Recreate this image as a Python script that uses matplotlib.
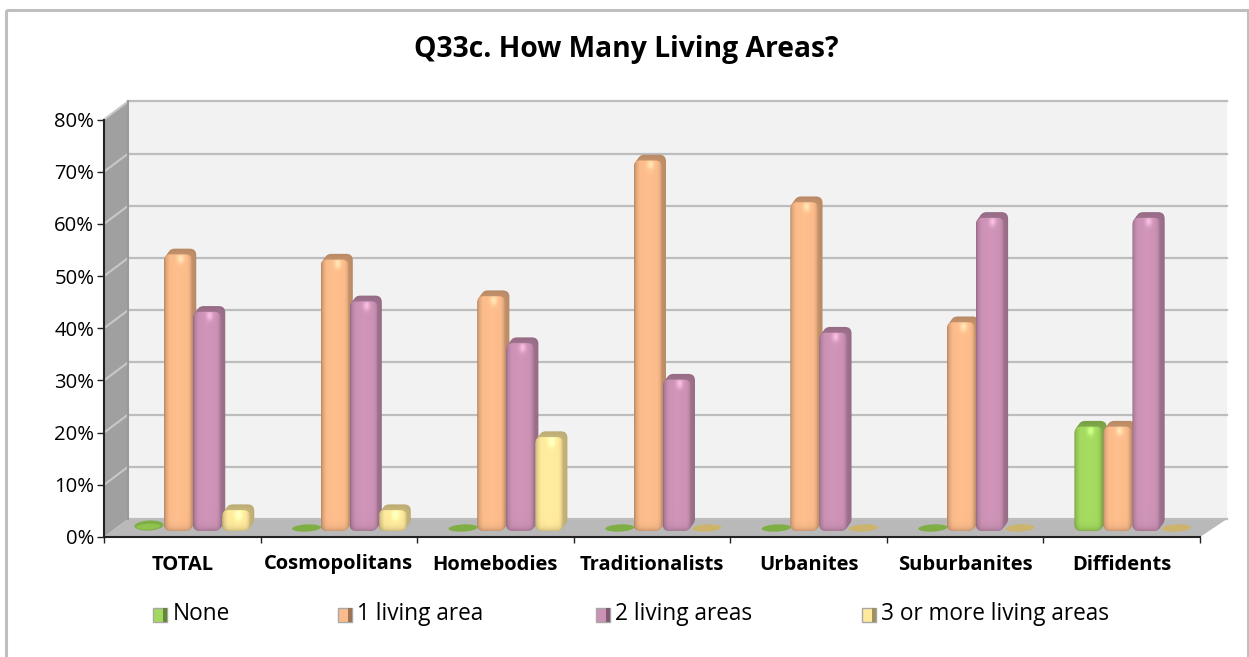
import numpy as np
import matplotlib
matplotlib.use("Agg")
import matplotlib.pyplot as plt
from matplotlib.patches import FancyBboxPatch, Polygon, Rectangle
from matplotlib.colors import to_rgb

title = "Q33c. How Many Living Areas?"
categories = ["TOTAL", "Cosmopolitans", "Homebodies", "Traditionalists", "Urbanites", "Suburbanites", "Diffidents"]
series_names = ["None", "1 living area", "2 living areas", "3 or more living areas"]
none_vals = [1, 0, 0, 0, 0, 0, 20]
one_vals = [53, 52, 45, 71, 63, 40, 20]
two_vals = [42, 44, 36, 29, 38, 60, 60]
three_vals = [4, 4, 18, 0, 0, 0, 0]
series_vals = [none_vals, one_vals, two_vals, three_vals]
base_cols = ["#A3D95E", "#FBBB8A", "#CC92B5", "#FFE99C"]
flat_cols = ["#7FAE45", "#D9A473", "#B08A9C", "#CDB46C"]
yticks = [0, 10, 20, 30, 40, 50, 60, 70, 80]

W, H = 1249, 657
fig = plt.figure(figsize=(W / 100, H / 100), dpi=100, facecolor="white")
plt.rcParams["font.family"] = ["Open Sans", "DejaVu Sans"]

L, R, B, T = 104, 1200, 537, 119.5
ax = fig.add_axes([L / W, 1 - B / H, (R - L) / W, (B - T) / H])
ax.set_xlim(0, 7)
ax.set_ylim(0, 80)
ax.patch.set_alpha(0)
for s in ["top", "right"]:
    ax.spines[s].set_visible(False)
for s in ["left", "bottom"]:
    ax.spines[s].set_color("#222222")
    ax.spines[s].set_linewidth(1.5)
    ax.spines[s].set_zorder(6)

px = 7 / (R - L)          # data units per pixel in x
py = 80 / (B - T)         # data units per pixel in y
dx, dy = 24 * px, 18 * py   # depth of the 3-D box
xr = 7 + 3 * px

# back wall, side wall, floor
ax.add_patch(Rectangle((dx, dy), xr, 80, fc="#F2F2F2", ec="none", zorder=0, clip_on=False))
ax.add_patch(Polygon([(0, 0), (dx, dy), (dx, 80 + dy), (0, 80)], fc="#A0A0A0", ec="none", zorder=1, clip_on=False))
ax.add_patch(Polygon([(0, 0), (7, 0), (xr + dx, dy), (dx, dy)], fc="#B9B9B9", ec="none", zorder=1, clip_on=False))
for v in yticks:
    if v > 0:
        ax.plot([0, dx], [v, v + dy], color="#C8C8C8", lw=1.5, zorder=1.5, clip_on=False)
    ax.plot([dx, xr + dx], [v + dy, v + dy], color="#BDBDBD", lw=1.6, zorder=1.5, clip_on=False)
ax.plot([dx, dx], [dy, 80 + dy], color="#9A9A9A", lw=1.5, zorder=1.6, clip_on=False)

ax.set_xticks(range(8))
ax.set_xticklabels([])
ax.set_yticks(yticks)
ax.set_yticklabels([f"{v}%" for v in yticks], fontsize=14.6, color="black")
ax.tick_params(axis="y", length=5, width=1, color="#222222", pad=2)
ax.tick_params(axis="x", length=4.5, width=1, color="#222222")
for i, c in enumerate(categories):
    ax.text(i + 0.5, -27.5 * py, c, ha="center", va="center", fontsize=14.5, fontweight="bold", color="black", clip_on=False)


def bar_image(col, height_px):
    """Soft 2-D shading of a rounded bar face."""
    base = np.array(to_rgb(col))
    xs = np.linspace(0, 1, 60)
    shade = np.interp(xs, [0, .06, .2, .5, .85, .95, 1], [.72, .88, 1.0, 1.02, 1.0, .92, .8])
    rows = max(int(height_px), 2)
    img = np.ones((rows, 60, 3)) * base * shade[None, :, None]
    ys = np.arange(rows)
    top = np.exp(-((ys - 4) / 5.0) ** 2)
    spot = np.exp(-((xs - .6) / .12) ** 2)
    img = img + (top[:, None] * spot[None, :])[:, :, None] * 0.17
    bottom = 1 - 0.18 * np.exp(-((rows - 1 - ys) / 3.0))
    img = img * bottom[:, None, None]
    return np.clip(img, 0, 1)


def slant_blob(xc, yc, a_px, b_px, col, z, deg=3):
    """Flat lozenge used for zero or near-zero values."""
    t = np.linspace(0, 2 * np.pi, 80)
    th = np.radians(deg)
    ex = a_px * np.cos(t) * np.cos(th) - b_px * np.sin(t) * np.sin(th)
    ey = a_px * np.cos(t) * np.sin(th) + b_px * np.sin(t) * np.cos(th)
    ax.add_patch(Polygon(np.column_stack([xc + ex * px, yc + ey * py]), fc=col, ec="none", zorder=z))


bw = 28 * px
stride = 29 * px
start = 31 * px
lift = 6 * py      # bars stand 6 px behind the front edge of the floor
rad = 6.5 * px
ratio = py / px

for s, (vals, col, flat) in enumerate(zip(series_vals, base_cols, flat_cols)):
    for i, v in enumerate(vals):
        x0 = i + start + s * stride
        z = 3 + s * 0.1
        if v == 0:
            slant_blob(x0 + 15 * px, lift + 3 * py, 14.5, 3.6, flat, z)
            continue
        if v * 5.22 < 8:
            slant_blob(x0 + 14 * px, lift + 5.5 * py, 14.5, 5, flat, z)
            slant_blob(x0 + 13.5 * px, lift + 4.4 * py, 12, 2.8, "#8FC24F", z + .01)
            continue
        # extruded back of the bar, stepped for a soft rounded side
        dark = np.array(to_rgb(col)) * 0.74
        for k in range(5, 0, -1):
            ox, oy = k * 0.85 * px, k * 1.15 * py
            c = np.clip(dark * (1 + 0.012 * (5 - k)), 0, 1)
            ax.add_patch(FancyBboxPatch((x0 + rad + ox, lift + rad * ratio + oy),
                                        bw - 2 * rad, v - 2 * rad * ratio,
                                        boxstyle=f"round,pad={rad},rounding_size={rad}",
                                        mutation_aspect=ratio, fc=c, ec="none", zorder=z))
        clip = FancyBboxPatch((x0 + rad, lift + rad * ratio), bw - 2 * rad, v - 2 * rad * ratio,
                              boxstyle=f"round,pad={rad},rounding_size={rad}", mutation_aspect=ratio,
                              fc="none", ec="none", transform=ax.transData, zorder=z + .01)
        ax.add_patch(clip)
        im = ax.imshow(bar_image(col, v / py), extent=[x0, x0 + bw, lift, lift + v], aspect="auto",
                       interpolation="bilinear", zorder=z + .02, origin="upper")
        im.set_clip_path(clip)
ax.set_xlim(0, 7)
ax.set_ylim(0, 80)

# title
fig.text(626 / W, 1 - 49.5 / H, title, ha="center", va="center", fontsize=20.3, fontweight="bold", color="black")

# overlay in pixel units for the legend keys and the outer frame
over = fig.add_axes([0, 0, 1, 1], facecolor="none")
over.set_xlim(0, W)
over.set_ylim(H, 0)
over.axis("off")
key_x = [153, 338, 596, 862]
for name, col, x in zip(series_names, base_cols, key_x):
    over.add_patch(Rectangle((x, 607.5), 14, 14, fc=col, ec="#A8A8A8", lw=1))
    over.add_patch(Rectangle((x + 10.5, 608), 3.5, 13.5, fc=np.array(to_rgb(col)) * 0.62, ec="none"))
    over.text(x + 19.5, 613.5, name, ha="left", va="center", fontsize=16.3, color="black")

over.add_patch(Rectangle((6, 9.5), 1242.5, 700, fc="none", ec="#BFBFBF", lw=2.2))

fig.savefig("out.png", dpi=100)
